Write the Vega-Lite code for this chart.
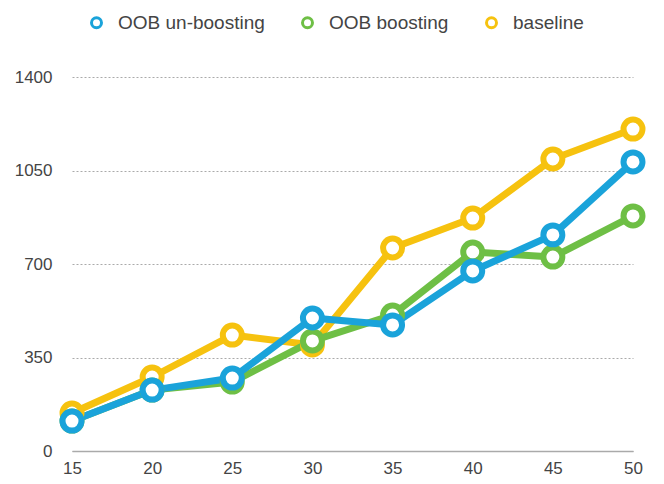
{
  "$schema": "https://vega.github.io/schema/vega-lite/v6.json",
  "autosize": "none",
  "width": 561,
  "height": 374,
  "padding": {"left": 72, "top": 77, "right": 31, "bottom": 33},
  "background": "white",
  "config": {
    "view": {"stroke": null},
    "font": "Liberation Sans"
  },
  "data": {
    "values": [
      {"x": 15, "series": "baseline", "y": 142},
      {"x": 20, "series": "baseline", "y": 277},
      {"x": 25, "series": "baseline", "y": 434},
      {"x": 30, "series": "baseline", "y": 397},
      {"x": 35, "series": "baseline", "y": 760},
      {"x": 40, "series": "baseline", "y": 872},
      {"x": 45, "series": "baseline", "y": 1093},
      {"x": 50, "series": "baseline", "y": 1205},
      {"x": 15, "series": "OOB boosting", "y": 112},
      {"x": 20, "series": "OOB boosting", "y": 228},
      {"x": 25, "series": "OOB boosting", "y": 258},
      {"x": 30, "series": "OOB boosting", "y": 412},
      {"x": 35, "series": "OOB boosting", "y": 509},
      {"x": 40, "series": "OOB boosting", "y": 745},
      {"x": 45, "series": "OOB boosting", "y": 726},
      {"x": 50, "series": "OOB boosting", "y": 880},
      {"x": 15, "series": "OOB un-boosting", "y": 112},
      {"x": 20, "series": "OOB un-boosting", "y": 228},
      {"x": 25, "series": "OOB un-boosting", "y": 273},
      {"x": 30, "series": "OOB un-boosting", "y": 498},
      {"x": 35, "series": "OOB un-boosting", "y": 472},
      {"x": 40, "series": "OOB un-boosting", "y": 674},
      {"x": 45, "series": "OOB un-boosting", "y": 809},
      {"x": 50, "series": "OOB un-boosting", "y": 1082}
    ]
  },
  "encoding": {
    "x": {
      "field": "x",
      "type": "quantitative",
      "scale": {"domain": [15, 50], "nice": false, "zero": false},
      "axis": {
        "title": null,
        "values": [15, 20, 25, 30, 35, 40, 45, 50],
        "grid": false,
        "ticks": false,
        "domainColor": "#aaaaaa",
        "domainWidth": 1.5,
        "labelFontSize": 17,
        "labelColor": "#444444",
        "labelPadding": 9,
        "labelFlush": false
      }
    },
    "y": {
      "field": "y",
      "type": "quantitative",
      "scale": {"domain": [0, 1400], "nice": false},
      "axis": {
        "title": null,
        "values": [0, 350, 700, 1050, 1400],
        "format": "d",
        "domain": false,
        "ticks": false,
        "grid": true,
        "gridDash": [2, 2],
        "gridColor": "#aaaaaa",
        "labelFontSize": 17,
        "labelColor": "#444444",
        "labelPadding": 20
      }
    },
    "color": {
      "field": "series",
      "type": "nominal",
      "scale": {
        "domain": ["OOB un-boosting", "OOB boosting", "baseline"],
        "range": ["#1AA3DA", "#6EBF45", "#F6C20F"]
      },
      "legend": {
        "title": null,
        "orient": "none",
        "direction": "horizontal",
        "legendX": 15,
        "legendY": -64,
        "labelFontSize": 19,
        "labelColor": "#444444",
        "symbolType": "circle",
        "symbolSize": 100,
        "symbolStrokeWidth": 3,
        "symbolFillColor": "white",
        "labelOffset": 12,
        "columnPadding": 31
      }
    }
  },
  "layer": [
    {
      "mark": {"type": "line", "strokeWidth": 7, "strokeCap": "round", "strokeJoin": "round"}
    },
    {
      "mark": {"type": "point", "shape": "circle", "filled": false, "fill": "white", "fillOpacity": 1, "size": 360, "strokeWidth": 6, "opacity": 1}
    }
  ]
}
